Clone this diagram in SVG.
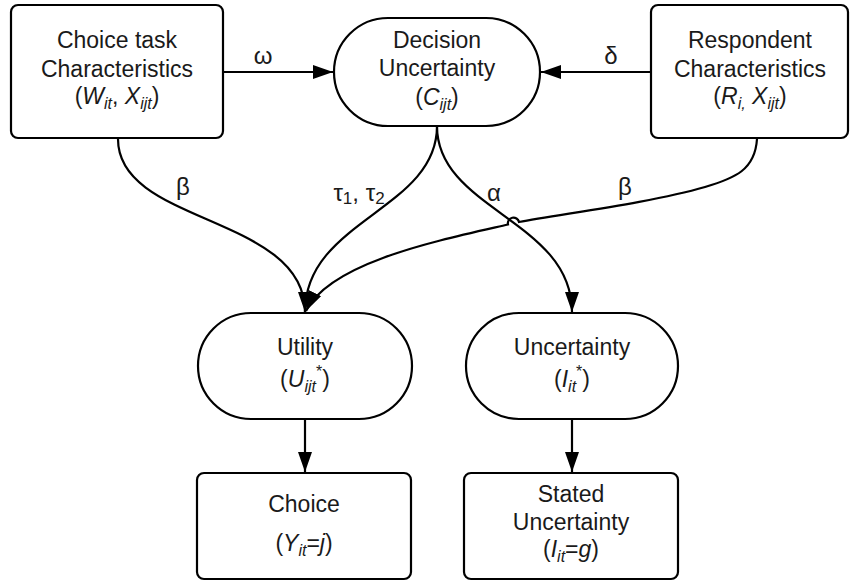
<svg xmlns="http://www.w3.org/2000/svg" width="856" height="584" viewBox="0 0 856 584">
<style>
.box{fill:#fff;stroke:#000;stroke-width:2.2}
.t{font-family:"Liberation Sans",Arial,sans-serif;font-size:23px;fill:#1a1a1a;text-anchor:middle}
.i{font-style:italic}
.s{font-size:16px}
.lbl{font-family:"Liberation Sans",Arial,sans-serif;font-size:24px;fill:#1a1a1a;text-anchor:middle}
.c{fill:none;stroke:#000;stroke-width:2.2}
</style>
<defs>
<marker id="ah" markerUnits="userSpaceOnUse" markerWidth="21" markerHeight="15" refX="20" refY="7" orient="auto">
<path d="M0,0 L20,7 L0,14 z" fill="#000"/>
</marker>
</defs>
<rect width="856" height="584" fill="#fff"/>
<g id="connectors">
<path class="c" d="M223,72 L333,72" marker-end="url(#ah)"/>
<path class="c" d="M651,72 L541,72" marker-end="url(#ah)"/>
<path class="c" d="M118,139 C118,225 305,215 305,312" marker-end="url(#ah)"/>
<path class="c" d="M437,126 C437,210 305,220 305,312"/>
<path class="c" d="M437,126 C437,210 572,220 572,312" marker-end="url(#ah)"/>
<path class="c" d="M757,139 C755,170 735,178 705,187 C650,203 560,214 519,222 A5.5,5.5 0 0 0 508,224.5 C440,240 330,262 306,311" marker-end="url(#ah)"/>
<path class="c" d="M305,419 L305,472" marker-end="url(#ah)"/>
<path class="c" d="M572,419 L572,472" marker-end="url(#ah)"/>
<text class="lbl" x="263" y="64">ω</text>
<text class="lbl" x="611" y="64">δ</text>
<text class="lbl" x="183" y="195">β</text>
<text class="lbl" x="359" y="201">τ<tspan font-size="17" dy="3">1</tspan><tspan dy="-3">, τ</tspan><tspan font-size="17" dy="3">2</tspan></text>
<text class="lbl" x="494" y="201">α</text>
<text class="lbl" x="625" y="195">β</text>
</g>
<g id="choice-task">
<rect class="box" x="11" y="5" width="212" height="133" rx="7"/>
<text class="t" x="117" y="48">Choice task</text>
<text class="t" x="117" y="77">Characteristics</text>
<text class="t" x="117" y="104">(<tspan class="i">W</tspan><tspan class="i s" dy="5">it</tspan><tspan dy="-5">, </tspan><tspan class="i">X</tspan><tspan class="i s" dy="5">ijt</tspan><tspan dy="-5">)</tspan></text>
</g>
<g id="decision-uncertainty">
<rect class="box" x="334" y="18" width="206" height="108" rx="54"/>
<text class="t" x="437" y="48">Decision</text>
<text class="t" x="437" y="76">Uncertainty</text>
<text class="t" x="437" y="105">(<tspan class="i">C</tspan><tspan class="i s" dy="5">ijt</tspan><tspan dy="-5">)</tspan></text>
</g>
<g id="respondent">
<rect class="box" x="651" y="5" width="197" height="133" rx="7"/>
<text class="t" x="750" y="48">Respondent</text>
<text class="t" x="750" y="77">Characteristics</text>
<text class="t" x="750" y="104">(<tspan class="i">R</tspan><tspan class="i s" dy="5">i,</tspan><tspan dy="-5"> </tspan><tspan class="i">X</tspan><tspan class="i s" dy="5">ijt</tspan><tspan dy="-5">)</tspan></text>
</g>
<g id="utility">
<rect class="box" x="198" y="313" width="214" height="106" rx="53"/>
<text class="t" x="305" y="355">Utility</text>
<text class="t" x="305" y="387">(<tspan class="i">U</tspan><tspan class="i s" dy="5">ijt</tspan><tspan class="s" dy="-15">*</tspan><tspan dy="10">)</tspan></text>
</g>
<g id="uncertainty">
<rect class="box" x="466" y="313" width="212" height="106" rx="53"/>
<text class="t" x="572" y="355">Uncertainty</text>
<text class="t" x="572" y="387">(<tspan class="i">I</tspan><tspan class="i s" dy="5">it</tspan><tspan class="s" dy="-15">*</tspan><tspan dy="10">)</tspan></text>
</g>
<g id="choice">
<rect class="box" x="197" y="473" width="214" height="106" rx="7"/>
<text class="t" x="304" y="512">Choice</text>
<text class="t" x="304" y="551">(<tspan class="i">Y</tspan><tspan class="i s" dy="5">it</tspan><tspan dy="-5">=</tspan><tspan class="i">j</tspan>)</text>
</g>
<g id="stated-uncertainty">
<rect class="box" x="464" y="473" width="214" height="106" rx="7"/>
<text class="t" x="571" y="502">Stated</text>
<text class="t" x="571" y="530">Uncertainty</text>
<text class="t" x="571" y="557">(<tspan class="i">I</tspan><tspan class="i s" dy="5">it</tspan><tspan dy="-5">=</tspan><tspan class="i">g</tspan>)</text>
</g>
</svg>
